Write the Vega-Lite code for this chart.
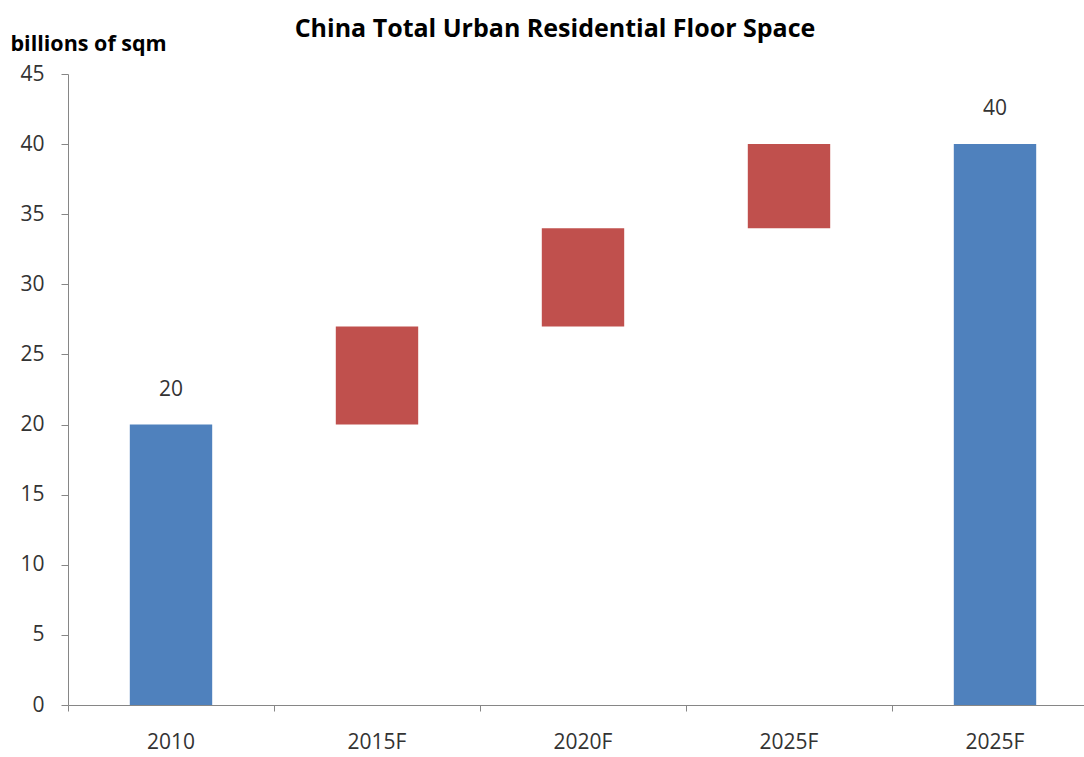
{
  "$schema": "https://vega.github.io/schema/vega-lite/v6.json",
  "width": 1016,
  "height": 631,
  "autosize": {"type": "none"},
  "padding": {"left": 68, "top": 74, "right": 0, "bottom": 52},
  "background": "white",
  "config": {"view": {"stroke": null}, "font": "Open Sans"},
  "title": {"text": "China Total Urban Residential Floor Space", "fontSize": 25, "fontWeight": "bold", "color": "#000000", "anchor": "middle", "dx": -21, "offset": -9},
  "data": {"values": [
    {"cat": "2010", "start": 0, "end": 20, "type": "total"},
    {"cat": "2015F", "start": 20, "end": 27, "type": "change"},
    {"cat": "2020F", "start": 27, "end": 34, "type": "change"},
    {"cat": "2025F", "start": 34, "end": 40, "type": "change"},
    {"cat": "2025F total", "start": 0, "end": 40, "type": "total"}
  ]},
  "encoding": {
    "x": {
      "field": "cat", "type": "nominal", "sort": null,
      "scale": {"paddingInner": 0, "paddingOuter": 0, "range": [0, 1030]},
      "axis": {"title": null, "labelAngle": 0, "bandPosition": 0, "tickSize": 6, "labelPadding": 20, "labelFontSize": 21, "labelColor": "#333333", "domainColor": "#868686", "tickColor": "#868686", "labelExpr": "datum.value == '2025F total' ? '2025F' : datum.value"}
    }
  },
  "layer": [
    {
      "mark": {"type": "bar", "width": {"band": 0.4}},
      "encoding": {
        "y": {"field": "start", "type": "quantitative", "scale": {"domain": [0, 45], "nice": false},
          "axis": {"values": [0, 5, 10, 15, 20, 25, 30, 35, 40, 45], "grid": false, "tickSize": 7, "labelPadding": 17, "labelFontSize": 21, "labelColor": "#333333", "domainColor": "#868686", "tickColor": "#868686",
            "title": "billions of sqm", "titleAngle": 0, "titleX": -58, "titleY": -30, "titleAlign": "left", "titleBaseline": "middle", "titleFontSize": 21.5, "titleFontWeight": "bold", "titleColor": "#000000"}},
        "y2": {"field": "end"},
        "color": {"field": "type", "type": "nominal", "scale": {"domain": ["total", "change"], "range": ["#4F81BD", "#C0504D"]}, "legend": null}
      }
    },
    {
      "transform": [{"filter": "datum.type == 'total'"}],
      "mark": {"type": "text", "baseline": "middle", "dy": -35, "fontSize": 21, "color": "#333333"},
      "encoding": {
        "y": {"field": "end", "type": "quantitative"},
        "text": {"field": "end", "type": "quantitative"}
      }
    }
  ]
}
